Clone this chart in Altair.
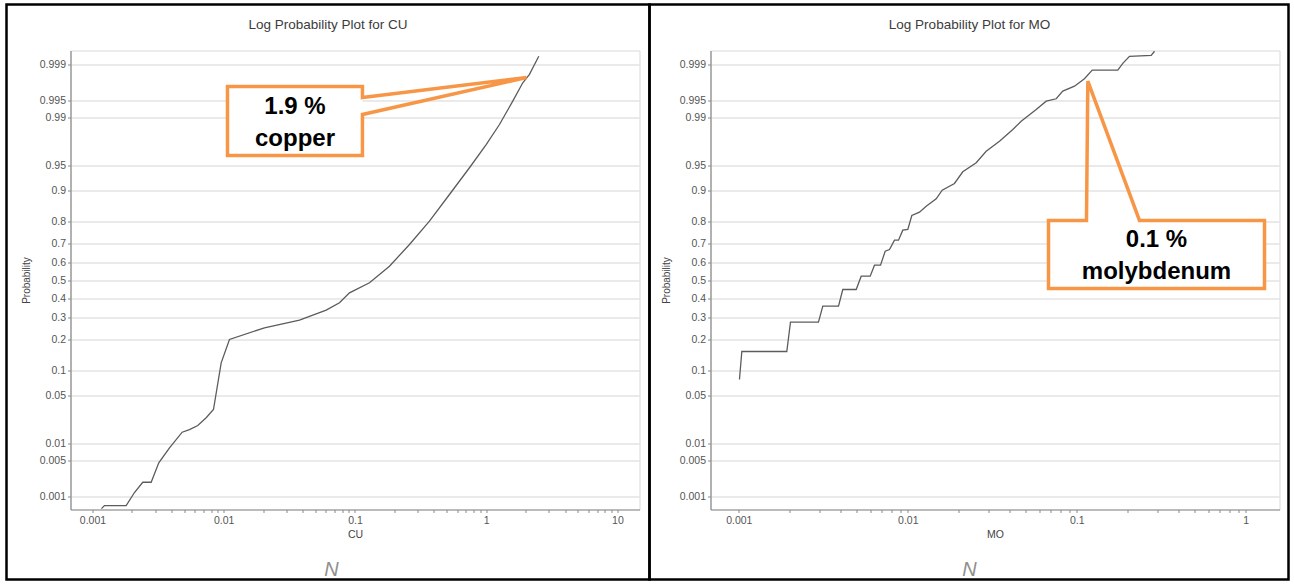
import altair as alt
import pandas as pd
from statistics import NormalDist

_nd = NormalDist()


def probit(p):
    return _nd.inv_cdf(p)


# ---------------- data ----------------
cu_value = [0.00117, 0.001234, 0.001806, 0.002089, 0.002416, 0.0028, 0.0032, 0.003862,
            0.004825, 0.005483, 0.006343, 0.007348, 0.008354, 0.009563, 0.01106, 0.02044,
            0.03777, 0.06035, 0.0762, 0.09081, 0.129, 0.1832, 0.2602, 0.3694, 0.5248,
            0.7455, 0.999, 1.262, 1.593, 1.899, 2.136, 2.514]
cu_prob = [0.00055, 0.00064, 0.00064, 0.00121, 0.00195, 0.00195, 0.00455, 0.00835,
           0.0150, 0.0165, 0.0190, 0.0248, 0.0325, 0.1195, 0.1993, 0.2493,
           0.285, 0.3355, 0.3749, 0.430, 0.487, 0.581, 0.6967, 0.802, 0.8907,
           0.9466, 0.9741, 0.98718, 0.99484, 0.99766, 0.99840, 0.99933]

mo_value = [0.001009, 0.001042, 0.001923, 0.002022, 0.00296, 0.003141, 0.00389, 0.004124,
            0.00495, 0.0053, 0.00599, 0.006353, 0.006896, 0.007348, 0.007792, 0.008342,
            0.00881, 0.009342, 0.01, 0.010561, 0.011726, 0.012849, 0.014725, 0.015975,
            0.01889, 0.02115, 0.0254, 0.0291, 0.03488, 0.04182, 0.04688, 0.05752,
            0.06592, 0.07552, 0.08262, 0.09692, 0.111, 0.1234, 0.1748, 0.1872,
            0.205, 0.2756, 0.2884]
mo_prob = [0.0784, 0.1549, 0.1549, 0.2754, 0.2754, 0.3566, 0.3566, 0.4488,
           0.4488, 0.5245, 0.5245, 0.5866, 0.5866, 0.6625, 0.6713, 0.7179,
           0.7179, 0.7641, 0.7672, 0.8238, 0.8357, 0.8561, 0.8788, 0.9018,
           0.9174, 0.94, 0.9539, 0.9678, 0.97686, 0.98462, 0.98867, 0.99279,
           0.99484, 0.99533, 0.99662, 0.99728, 0.99805, 0.99869, 0.99869, 0.99905,
           0.99933, 0.99936, 0.99948]

prob_ticks = [0.001, 0.005, 0.01, 0.05, 0.1, 0.2, 0.3, 0.4, 0.5, 0.6, 0.7, 0.8,
              0.9, 0.95, 0.99, 0.995, 0.999]
cu_x_domain = [0.00068, 14.72]
mo_x_domain = [0.00068, 1.583]
z_domain = [-3.276, 3.290]

# callouts (value, probability)
cu_call_value = [0.010681, 0.11403, 0.11403, 2.026, 0.11403, 0.11403, 0.010681, 0.010681]
cu_call_prob = [0.99724, 0.99724, 0.99558, 0.99816, 0.99122, 0.96313, 0.96313, 0.99724]
cu_box_value = [0.010681, 0.11403]
cu_box_prob = [0.96313, 0.99724]
cu_text = ["1.9 %", "copper"]
cu_text_value = [0.0349, 0.0349]
cu_text_prob = [0.99122, 0.97265]

mo_call_value = [0.06801, 0.1141, 0.1162, 0.2349, 1.2904, 1.2904, 0.06801, 0.06801]
mo_call_prob = [0.8047, 0.8047, 0.99782, 0.8047, 0.8047, 0.4544, 0.4544, 0.8047]
mo_box_value = [0.06801, 1.2904]
mo_box_prob = [0.4544, 0.8047]
mo_text = ["0.1 %", "molybdenum"]
mo_text_value = [0.2962, 0.2962]
mo_text_prob = [0.6816, 0.5057]

W, H = 569, 459
ORANGE = "#F79646"
FONT = "Liberation Sans"


def decade_ticks(hi):
    out = []
    for e in range(-3, 2):
        for m in range(1, 10):
            v = m * 10.0 ** e
            if v <= hi:
                out.append(v)
    return out


def make_panel(var, values, probs, x_domain, call_v, call_p, box_v, box_p,
               txt, txt_v, txt_p, title, border, title_x, n_x):
    xs = alt.Scale(type="log", domain=x_domain, nice=False)
    ys = alt.Scale(domain=z_domain, nice=False, zero=False)
    x_axis = alt.Axis(
        values=decade_ticks(x_domain[1]),
        labelExpr="abs(log(datum.value)/LN10 - round(log(datum.value)/LN10)) < 1e-6 ? format(datum.value, '~g') : ''",
        grid=False, tickSize=3, tickColor="#8a8a8a", domainColor="#8a8a8a", domainWidth=1.2,
        labelFontSize=10.5, labelColor="#555555", labelPadding=3, labelOverlap=False,
        labelFlush=False, title=var, titleFontSize=10.5, titleFontWeight="normal",
        titleColor="#444444", titlePadding=3,
    )
    y_axis = alt.Axis(
        values=[probit(p) for p in prob_ticks],
        labelExpr="format(cumulativeNormal(datum.value), '.3~f')",
        grid=True, gridColor="#e3e3e3", gridWidth=1.5, tickSize=3, tickColor="#8a8a8a",
        domainColor="#8a8a8a", domainWidth=1.2, labelFontSize=10.5, labelColor="#555555",
        labelPadding=2, labelOverlap=False, labelFlush=False,
        title="Probability", titleFontSize=10, titleFontWeight="normal", titleColor="#444444",
        titleX=-44, titleY=H / 2, titleAlign="center", titleBaseline="middle", titleAngle=-90,
    )
    X = lambda f="value": alt.X(f + ":Q", scale=xs, axis=x_axis)
    Y = lambda f="z": alt.Y(f + ":Q", scale=ys, axis=y_axis)

    one = pd.DataFrame({"k": [0]})
    bx1, bx2, by1, by2 = border
    frame = alt.Chart(one).mark_rect(fillOpacity=0, stroke="black", strokeWidth=2.5).encode(
        x=alt.value(bx1), x2=alt.value(bx2), y=alt.value(by1), y2=alt.value(by2))
    ttl = alt.Chart(one).mark_text(font=FONT, fontSize=13.5, color="#3c3c3c",
                                   align="center", baseline="middle").encode(
        x=alt.value(title_x), y=alt.value(-26), text=alt.value(title))
    nmark = alt.Chart(one).mark_text(font=FONT, fontSize=20, fontStyle="italic", color="#8f8f8f",
                                     align="center", baseline="middle").encode(
        x=alt.value(n_x), y=alt.value(519), text=alt.value("N"))

    curve_df = pd.DataFrame({"value": values, "z": [probit(p) for p in probs],
                             "i": list(range(len(values)))})
    curve = alt.Chart(curve_df).mark_line(color="#5c5c5c", strokeWidth=1.3, clip=True).encode(
        x=X(), y=Y(), order="i:Q")

    box_df = pd.DataFrame({"value": [box_v[0]], "value2": [box_v[1]],
                           "z": [probit(box_p[0])], "z2": [probit(box_p[1])]})
    box = alt.Chart(box_df).mark_rect(fill="white").encode(
        x=X(), x2="value2:Q", y=Y(), y2="z2:Q")

    call_df = pd.DataFrame({"value": call_v, "z": [probit(p) for p in call_p],
                            "i": list(range(len(call_v)))})
    outline = alt.Chart(call_df).mark_line(color=ORANGE, strokeWidth=3.5, strokeJoin="miter",
                                           strokeCap="square").encode(
        x=X(), y=Y(), order="i:Q")

    txt_df = pd.DataFrame({"value": txt_v, "z": [probit(p) for p in txt_p], "label": txt})
    texts = alt.Chart(txt_df).mark_text(font=FONT, fontSize=24, fontWeight="bold", color="black",
                                        align="center", baseline="alphabetic").encode(
        x=X(), y=Y(), text="label:N")

    return alt.layer(frame, ttl, nmark, curve, box, outline, texts).properties(width=W, height=H)


left = make_panel("CU", cu_value, cu_prob, cu_x_domain, cu_call_value, cu_call_prob,
                  cu_box_value, cu_box_prob, cu_text, cu_text_value, cu_text_prob,
                  "Log Probability Plot for CU", (-64, 579, -46, 529), 257.5, 261)
right = make_panel("MO", mo_value, mo_prob, mo_x_domain, mo_call_value, mo_call_prob,
                   mo_box_value, mo_box_prob, mo_text, mo_text_value, mo_text_prob,
                   "Log Probability Plot for MO", (-61, 578, -46, 529), 259, 259)

chart = alt.HConcatChart(
    hconcat=[left, right], spacing=71, bounds="flush",
    padding={"left": 4.5, "top": 2.5, "right": 2, "bottom": 1},
).configure_view(stroke="#d9d9d9", strokeWidth=1).configure_axis(
    labelFont=FONT, titleFont=FONT)

chart.save("out.html", embed_options={"renderer": "svg", "actions": False})
